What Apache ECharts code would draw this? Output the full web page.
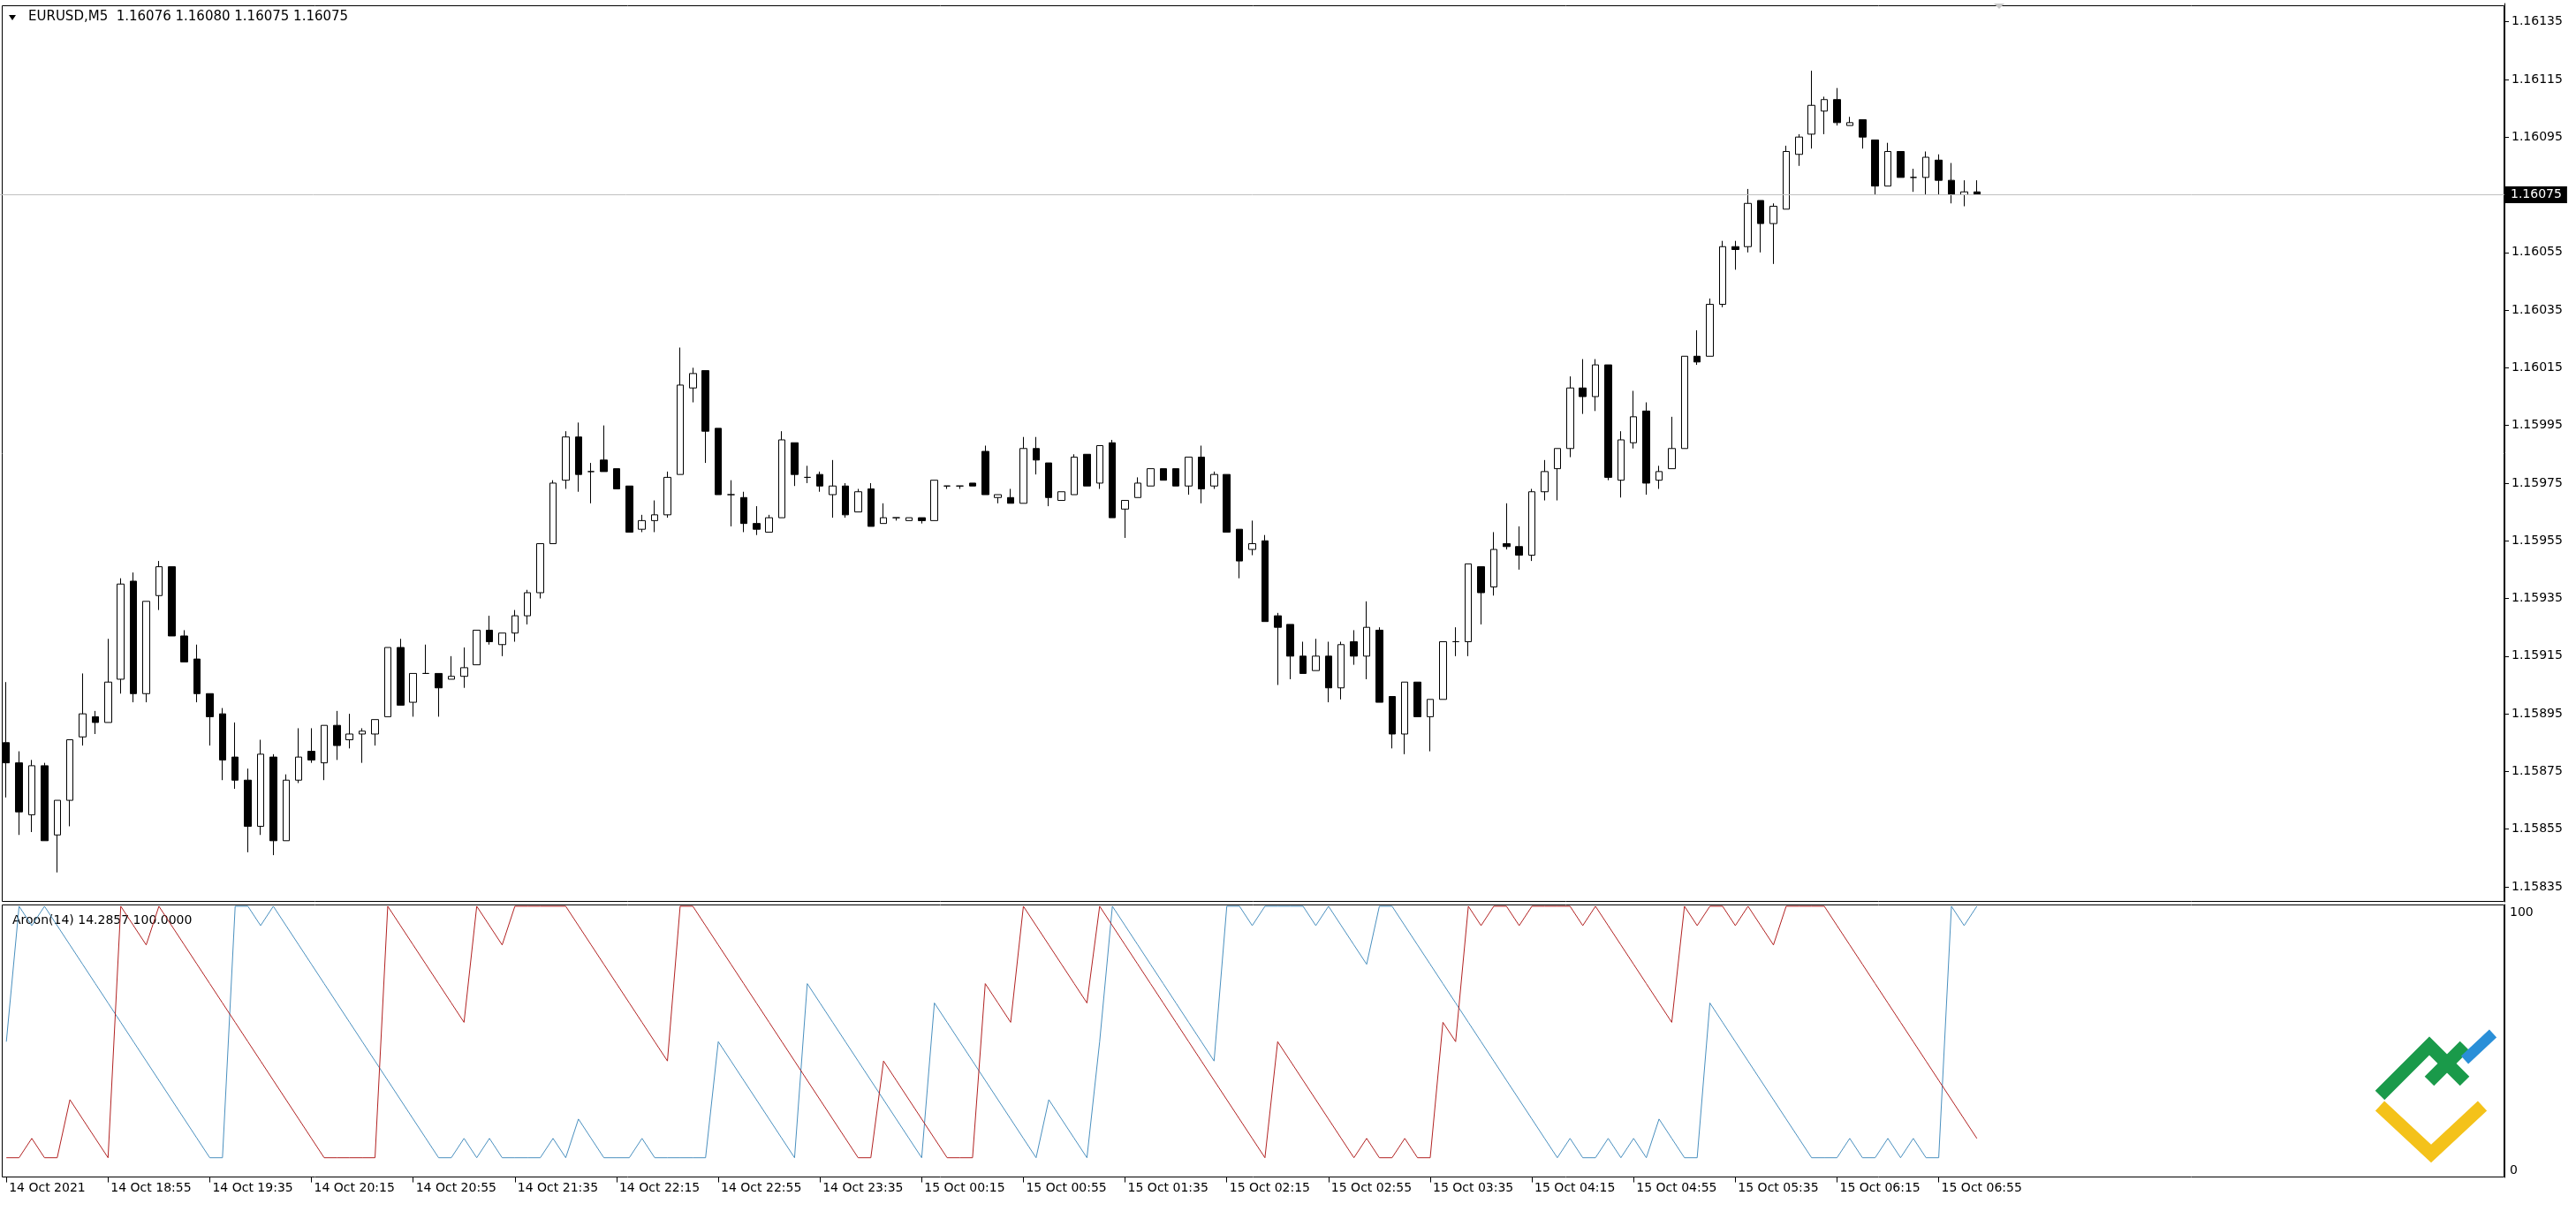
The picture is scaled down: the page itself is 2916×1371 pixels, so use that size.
<!DOCTYPE html>
<html><head><meta charset="utf-8">
<script src="https://cdn.jsdelivr.net/npm/echarts@6/dist/echarts.min.js"></script>
<style>html,body{margin:0;padding:0;background:#fff;}#c{width:2916px;height:1371px;}</style>
</head><body><div id="c"></div>
<script>
// ---- DATA (EURUSD M5, 14 Oct 2021 18:15 .. 15 Oct 2021 07:10) ----
const open = [1.15885,1.15878,1.15860,1.15877,1.15853,1.15865,1.15887,1.15894,1.15892,1.15907,
1.15941,1.15902,1.15936,1.15946,1.15922,1.15914,1.15902,1.15895,1.15880,1.15872,
1.15856,1.15880,1.15851,1.15872,1.15882,1.15878,1.15891,1.15886,1.15888,1.15888,
1.15894,1.15918,1.15899,1.15909,1.15909,1.15907,1.15908,1.15912,1.15924,1.15919,
1.15923,1.15929,1.15937,1.15954,1.15976,1.15991,1.15979,1.15983,1.15980,1.15974,
1.15959,1.15962,1.15964,1.15978,1.16008,1.16014,1.15994,1.15971,1.15970,1.15961,
1.15958,1.15963,1.15989,1.15977,1.15978,1.15971,1.15974,1.15965,1.15973,1.15961,
1.15963,1.15962,1.15963,1.15962,1.15974,1.15974,1.15975,1.15986,1.15970,1.15970,
1.15968,1.15987,1.15982,1.15969,1.15971,1.15985,1.15975,1.15989,1.15966,1.15970,
1.15974,1.15980,1.15980,1.15974,1.15984,1.15974,1.15978,1.15959,1.15952,1.15955,
1.15929,1.15926,1.15915,1.15910,1.15915,1.15904,1.15920,1.15915,1.15924,1.15901,
1.15888,1.15906,1.15894,1.15900,1.15920,1.15920,1.15946,1.15939,1.15954,1.15953,
1.15950,1.15972,1.15980,1.15987,1.16008,1.16005,1.16016,1.15976,1.15989,1.16000,
1.15976,1.15980,1.15987,1.16019,1.16019,1.16037,1.16057,1.16057,1.16073,1.16065,
1.16070,1.16089,1.16096,1.16104,1.16108,1.16099,1.16101,1.16094,1.16078,1.16090,
1.16081,1.16081,1.16087,1.16080,1.16075,1.16076];
const high = [1.15906,1.15882,1.15879,1.15878,1.15865,1.15886,1.15909,1.15896,1.15921,1.15942,
1.15944,1.15934,1.15948,1.15946,1.15924,1.15919,1.15902,1.15897,1.15892,1.15876,
1.15886,1.15881,1.15874,1.15890,1.15890,1.15891,1.15896,1.15895,1.15890,1.15893,
1.15918,1.15921,1.15909,1.15919,1.15909,1.15915,1.15918,1.15924,1.15929,1.15923,
1.15931,1.15938,1.15954,1.15976,1.15993,1.15996,1.15982,1.15995,1.15980,1.15974,
1.15964,1.15969,1.15979,1.16022,1.16015,1.16014,1.15994,1.15976,1.15972,1.15967,
1.15964,1.15993,1.15989,1.15981,1.15979,1.15983,1.15975,1.15973,1.15975,1.15968,
1.15963,1.15963,1.15963,1.15976,1.15974,1.15974,1.15975,1.15988,1.15971,1.15973,
1.15991,1.15991,1.15982,1.15972,1.15985,1.15985,1.15988,1.15990,1.15969,1.15977,
1.15980,1.15980,1.15980,1.15984,1.15988,1.15979,1.15978,1.15959,1.15962,1.15957,
1.15930,1.15926,1.15920,1.15921,1.15920,1.15920,1.15924,1.15934,1.15925,1.15901,
1.15906,1.15906,1.15900,1.15920,1.15925,1.15947,1.15946,1.15958,1.15968,1.15960,
1.15973,1.15983,1.15987,1.16012,1.16018,1.16018,1.16016,1.15993,1.16007,1.16003,
1.15981,1.15998,1.16019,1.16028,1.16039,1.16059,1.16059,1.16077,1.16073,1.16072,
1.16092,1.16096,1.16118,1.16109,1.16112,1.16102,1.16101,1.16094,1.16093,1.16090,
1.16084,1.16090,1.16089,1.16086,1.16080,1.16080];
const low = [1.15866,1.15853,1.15854,1.15851,1.15840,1.15856,1.15884,1.15888,1.15892,1.15902,
1.15899,1.15899,1.15931,1.15922,1.15913,1.15899,1.15884,1.15872,1.15869,1.15847,
1.15853,1.15846,1.15851,1.15871,1.15878,1.15872,1.15879,1.15883,1.15878,1.15884,
1.15894,1.15898,1.15894,1.15909,1.15894,1.15907,1.15904,1.15912,1.15919,1.15915,
1.15920,1.15926,1.15935,1.15954,1.15973,1.15972,1.15968,1.15979,1.15973,1.15958,
1.15958,1.15958,1.15963,1.15978,1.16003,1.15982,1.15971,1.15960,1.15958,1.15957,
1.15958,1.15963,1.15974,1.15975,1.15972,1.15963,1.15963,1.15965,1.15960,1.15961,
1.15962,1.15962,1.15961,1.15962,1.15973,1.15973,1.15974,1.15971,1.15968,1.15968,
1.15968,1.15978,1.15967,1.15969,1.15971,1.15974,1.15973,1.15963,1.15956,1.15970,
1.15974,1.15976,1.15974,1.15971,1.15968,1.15973,1.15958,1.15942,1.15950,1.15927,
1.15905,1.15907,1.15909,1.15910,1.15899,1.15900,1.15912,1.15907,1.15899,1.15883,
1.15881,1.15894,1.15882,1.15900,1.15915,1.15915,1.15926,1.15936,1.15952,1.15945,
1.15948,1.15969,1.15969,1.15984,1.15999,1.16000,1.15976,1.15970,1.15987,1.15971,
1.15973,1.15980,1.15987,1.16016,1.16019,1.16036,1.16049,1.16055,1.16055,1.16051,
1.16070,1.16085,1.16091,1.16096,1.16099,1.16099,1.16091,1.16075,1.16078,1.16081,
1.16076,1.16075,1.16075,1.16072,1.16071,1.16075];
const close = [1.15878,1.15861,1.15877,1.15851,1.15865,1.15886,1.15895,1.15892,1.15906,1.15940,
1.15902,1.15934,1.15946,1.15922,1.15913,1.15902,1.15894,1.15879,1.15872,1.15856,
1.15881,1.15851,1.15872,1.15880,1.15879,1.15891,1.15884,1.15888,1.15889,1.15893,
1.15918,1.15898,1.15909,1.15909,1.15904,1.15908,1.15911,1.15924,1.15920,1.15923,
1.15929,1.15937,1.15954,1.15975,1.15991,1.15978,1.15979,1.15979,1.15973,1.15958,
1.15962,1.15964,1.15977,1.16009,1.16013,1.15993,1.15971,1.15971,1.15961,1.15959,
1.15963,1.15990,1.15978,1.15977,1.15974,1.15974,1.15964,1.15972,1.15960,1.15963,
1.15963,1.15963,1.15962,1.15976,1.15974,1.15974,1.15974,1.15971,1.15971,1.15968,
1.15987,1.15983,1.15970,1.15972,1.15984,1.15974,1.15988,1.15963,1.15969,1.15975,
1.15980,1.15976,1.15974,1.15984,1.15973,1.15978,1.15958,1.15948,1.15954,1.15927,
1.15925,1.15915,1.15909,1.15915,1.15904,1.15919,1.15915,1.15925,1.15899,1.15888,
1.15906,1.15894,1.15900,1.15920,1.15920,1.15947,1.15937,1.15952,1.15953,1.15950,
1.15972,1.15979,1.15987,1.16008,1.16005,1.16016,1.15977,1.15990,1.15998,1.15975,
1.15979,1.15987,1.16019,1.16017,1.16037,1.16057,1.16056,1.16072,1.16065,1.16071,
1.16090,1.16095,1.16106,1.16108,1.16100,1.16100,1.16095,1.16078,1.16090,1.16081,
1.16081,1.16088,1.16080,1.16075,1.16076,1.16075];
// Aroon(14) on closes, read from the indicator window
const aroonUp = [7.1429,7.1429,14.2857,7.1429,7.1429,28.5714,21.4286,14.2857,7.1429,100,
92.8571,85.7143,100,92.8571,85.7143,78.5714,71.4286,64.2857,57.1429,50,
42.8571,35.7143,28.5714,21.4286,14.2857,7.1429,7.1429,7.1429,7.1429,7.1429,
100,92.8571,85.7143,78.5714,71.4286,64.2857,57.1429,100,92.8571,85.7143,
100,100,100,100,100,92.8571,85.7143,78.5714,71.4286,64.2857,
57.1429,50,42.8571,100,100,92.8571,85.7143,78.5714,71.4286,64.2857,
57.1429,50,42.8571,35.7143,28.5714,21.4286,14.2857,7.1429,7.1429,42.8571,
35.7143,28.5714,21.4286,14.2857,7.1429,7.1429,7.1429,71.4286,64.2857,57.1429,
100,92.8571,85.7143,78.5714,71.4286,64.2857,100,92.8571,85.7143,78.5714,
71.4286,64.2857,57.1429,50,42.8571,35.7143,28.5714,21.4286,14.2857,7.1429,
50,42.8571,35.7143,28.5714,21.4286,14.2857,7.1429,14.2857,7.1429,7.1429,
14.2857,7.1429,7.1429,57.1429,50,100,92.8571,100,100,92.8571,
100,100,100,100,92.8571,100,92.8571,85.7143,78.5714,71.4286,
64.2857,57.1429,100,92.8571,100,100,92.8571,100,92.8571,85.7143,
100,100,100,100,92.8571,85.7143,78.5714,71.4286,64.2857,57.1429,
50,42.8571,35.7143,28.5714,21.4286,14.2857];
const aroonDown = [50,100,92.8571,100,92.8571,85.7143,78.5714,71.4286,64.2857,57.1429,
50,42.8571,35.7143,28.5714,21.4286,14.2857,7.1429,7.1429,100,100,
92.8571,100,92.8571,85.7143,78.5714,71.4286,64.2857,57.1429,50,42.8571,
35.7143,28.5714,21.4286,14.2857,7.1429,7.1429,14.2857,7.1429,14.2857,7.1429,
7.1429,7.1429,7.1429,14.2857,7.1429,21.4286,14.2857,7.1429,7.1429,7.1429,
14.2857,7.1429,7.1429,7.1429,7.1429,7.1429,50,42.8571,35.7143,28.5714,
21.4286,14.2857,7.1429,71.4286,64.2857,57.1429,50,42.8571,35.7143,28.5714,
21.4286,14.2857,7.1429,64.2857,57.1429,50,42.8571,35.7143,28.5714,21.4286,
14.2857,7.1429,28.5714,21.4286,14.2857,7.1429,50,100,92.8571,85.7143,
78.5714,71.4286,64.2857,57.1429,50,42.8571,100,100,92.8571,100,
100,100,100,92.8571,100,92.8571,85.7143,78.5714,100,100,
92.8571,85.7143,78.5714,71.4286,64.2857,57.1429,50,42.8571,35.7143,28.5714,
21.4286,14.2857,7.1429,14.2857,7.1429,7.1429,14.2857,7.1429,14.2857,7.1429,
21.4286,14.2857,7.1429,7.1429,64.2857,57.1429,50,42.8571,35.7143,28.5714,
21.4286,14.2857,7.1429,7.1429,7.1429,14.2857,7.1429,7.1429,14.2857,7.1429,
14.2857,7.1429,7.1429,100,92.8571,100];
const timeLabels = ['14 Oct 2021','14 Oct 18:55','14 Oct 19:35','14 Oct 20:15','14 Oct 20:55',
'14 Oct 21:35','14 Oct 22:15','14 Oct 22:55','14 Oct 23:35','15 Oct 00:15','15 Oct 00:55',
'15 Oct 01:35','15 Oct 02:15','15 Oct 02:55','15 Oct 03:35','15 Oct 04:15','15 Oct 04:55',
'15 Oct 05:35','15 Oct 06:15','15 Oct 06:55'];
const priceTicks = [1.15835,1.15855,1.15875,1.15895,1.15915,1.15935,1.15955,1.15975,
1.15995,1.16015,1.16035,1.16055,1.16075,1.16095,1.16115,1.16135];
const aroonTopTick = [100];
const aroonBottomTick = [0];

// ---- CHART ----
const FONT = 'DejaVu Sans';
const N = open.length;
const SLOTS = N + 41;               // empty space to the right (chart shift)
const cats = Array.from({length: SLOTS}, (_, i) => String(i));
const ohlc = open.map((o, i) => [o, close[i], low[i], high[i]]);
const f5 = v => v.toFixed(5);
const lastClose = close[N - 1];
const showTime = (i) => i % 8 === 0 && i < N;

const chart = echarts.init(document.getElementById('c'), null, {renderer: 'canvas', width: 2916, height: 1371});
chart.setOption({
  animation: false,
  backgroundColor: '#ffffff',
  textStyle: {fontFamily: FONT},
  grid: [
    {left: -3.2, right: 81, top: 4, height: 1017},
    {left: -3.2, right: 81, top: 1024, height: 309}
  ],
  xAxis: [
    {type: 'category', gridIndex: 0, data: cats, boundaryGap: true, show: false},
    {type: 'category', gridIndex: 1, data: cats, boundaryGap: true,
      axisLine: {show: false},
      axisTick: {show: true, interval: showTime, alignWithLabel: true, length: 6, lineStyle: {color: '#000'}},
      axisLabel: {show: true, interval: showTime, formatter: (v, i) => timeLabels[i / 8] || '',
        align: 'left', margin: 5, padding: [0, 0, 0, 3], color: '#000', fontSize: 14, fontFamily: FONT},
      splitLine: {show: false}}
  ],
  yAxis: [
    {type: 'value', gridIndex: 0, position: 'right', min: 1.158298, max: 1.161413,
      axisLine: {show: true, lineStyle: {color: '#000'}},
      axisTick: {show: true, customValues: priceTicks, length: 5, lineStyle: {color: '#000'}},
      axisLabel: {customValues: priceTicks, formatter: v => f5(v), margin: 8, color: '#000', fontSize: 14, fontFamily: FONT},
      splitLine: {show: false}},
    {type: 'value', gridIndex: 1, position: 'right', min: -0.13, max: 100.65,
      axisLine: {show: true, lineStyle: {color: '#000'}}, axisTick: {show: false},
      axisLabel: {customValues: aroonTopTick, verticalAlign: 'top', margin: 6, color: '#000', fontSize: 14, fontFamily: FONT},
      splitLine: {show: false}},
    {type: 'value', gridIndex: 1, position: 'right', min: -0.13, max: 100.65,
      axisLine: {show: false}, axisTick: {show: false},
      axisLabel: {customValues: aroonBottomTick, verticalAlign: 'bottom', margin: 6, color: '#000', fontSize: 14, fontFamily: FONT},
      splitLine: {show: false}}
  ],
  series: [
    {type: 'candlestick', xAxisIndex: 0, yAxisIndex: 0, data: ohlc, barWidth: 8,
      itemStyle: {color: '#ffffff', color0: '#000000', borderColor: '#000000', borderColor0: '#000000', borderColorDoji: '#000000', borderWidth: 1}
    },
    {type: 'line', name: 'Bid line', xAxisIndex: 0, yAxisIndex: 0, data: [], symbol: 'none', silent: true,
      markLine: {silent: true, symbol: ['none', 'none'], animation: false, precision: 5,
        lineStyle: {color: '#c0c0c0', width: 1, type: 'solid'},
        label: {show: true, position: 'end', formatter: () => f5(lastClose), backgroundColor: '#000', color: '#fff',
          padding: [3, 6, 2, 6], fontSize: 14, fontFamily: FONT, distance: 1},
        data: [{yAxis: lastClose}]}
    },
    {type: 'line', name: 'Aroon Down', xAxisIndex: 1, yAxisIndex: 1, data: aroonDown, symbol: 'none',
      lineStyle: {color: '#4a90bf', width: 1}, z: 2},
    {type: 'line', name: 'Aroon Up', xAxisIndex: 1, yAxisIndex: 1, data: aroonUp, symbol: 'none',
      lineStyle: {color: '#b22222', width: 1}, z: 3}
  ],
  graphic: [
    {type: 'rect', silent: true, shape: {x: 2.5, y: 6.5, width: 2832, height: 1014}, style: {fill: null, stroke: '#000', lineWidth: 1}},
    {type: 'rect', silent: true, shape: {x: 2.5, y: 1024.5, width: 2832, height: 308}, style: {fill: null, stroke: '#000', lineWidth: 1}},
    {type: 'polygon', silent: true, shape: {points: [[10, 17], [18, 17], [14, 23]]}, style: {fill: '#000'}},
    {type: 'text', silent: true, left: 32, top: 12,
      style: {text: 'EURUSD,M5  ' + [open[N-1], high[N-1], low[N-1], close[N-1]].map(f5).join(' '), font: '15px "DejaVu Sans"', fill: '#000'}},
    {type: 'text', silent: true, left: 14, top: 1035,
      style: {text: 'Aroon(14) ' + aroonUp[N-1].toFixed(4) + ' ' + aroonDown[N-1].toFixed(4), font: '14px "DejaVu Sans"', fill: '#000'}},
    {type: 'polygon', silent: true, shape: {points: [[2257, 4], [2269, 4], [2263, 10]]}, style: {fill: '#c8c8c8'}},
    // logo
    {type: 'polyline', silent: true, shape: {points: [[2694, 1240], [2750, 1184], [2790, 1224]]}, style: {stroke: '#1a9a4a', lineWidth: 15, fill: null}},
    {type: 'polyline', silent: true, shape: {points: [[2750, 1224], [2790, 1184]]}, style: {stroke: '#1a9a4a', lineWidth: 15, fill: null}},
    {type: 'polyline', silent: true, shape: {points: [[2790, 1200], [2822, 1170]]}, style: {stroke: '#2a8fd8', lineWidth: 12, fill: null}},
    {type: 'polyline', silent: true, shape: {points: [[2694, 1252], [2752, 1306], [2810, 1252]]}, style: {stroke: '#f4c21a', lineWidth: 15, fill: null}}
  ]
});
</script>
</body></html>
